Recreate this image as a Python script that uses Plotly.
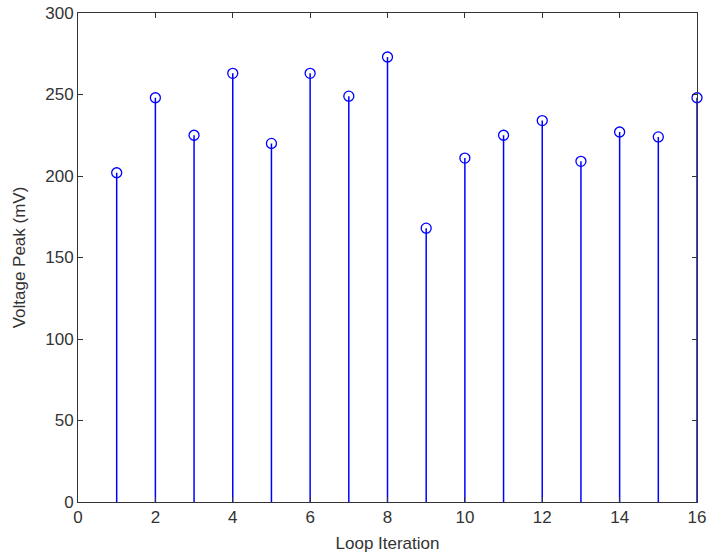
import plotly.graph_objects as go

iterations = list(range(1, 17))
voltage_peak = [202, 248, 225, 263, 220, 263, 249, 273, 168, 211, 225, 234, 209, 227, 224, 248]
x_ticks = [0, 2, 4, 6, 8, 10, 12, 14, 16]
y_ticks = [0, 50, 100, 150, 200, 250, 300]

stem_x, stem_y = [], []
for xi, yi in zip(iterations, voltage_peak):
    stem_x += [xi, xi, None]
    stem_y += [0, yi, None]

blue = "#0000FF"
font = dict(family="Liberation Sans", size=17, color="#333333")
fig = go.Figure()
fig.add_trace(go.Scatter(x=stem_x, y=stem_y, mode="lines",
                         line=dict(color=blue, width=1.5), hoverinfo="skip",
                         showlegend=False))
fig.add_trace(go.Scatter(x=iterations, y=voltage_peak, mode="markers",
                         marker=dict(symbol="circle-open", size=10, color=blue,
                                     line=dict(width=1.3, color=blue)),
                         cliponaxis=False, showlegend=False))

axis_common = dict(showline=True, mirror="ticks", linecolor="#333333", linewidth=1,
                   ticks="inside", ticklen=5, tickcolor="#333333",
                   showgrid=False, zeroline=False, automargin=False,
                   tickfont=font)

fig.update_xaxes(range=[0, 16], tickvals=x_ticks, **axis_common,
                 title=dict(text="Loop Iteration", standoff=11, font=font))
fig.update_yaxes(range=[0, 300], tickvals=y_ticks, **axis_common,
                 title=dict(text="Voltage Peak (mV)", standoff=15, font=font))

fig.update_layout(width=709, height=553, margin=dict(l=78, r=12, t=13, b=51),
                  plot_bgcolor="white", paper_bgcolor="white")
fig.write_html("out.html")
